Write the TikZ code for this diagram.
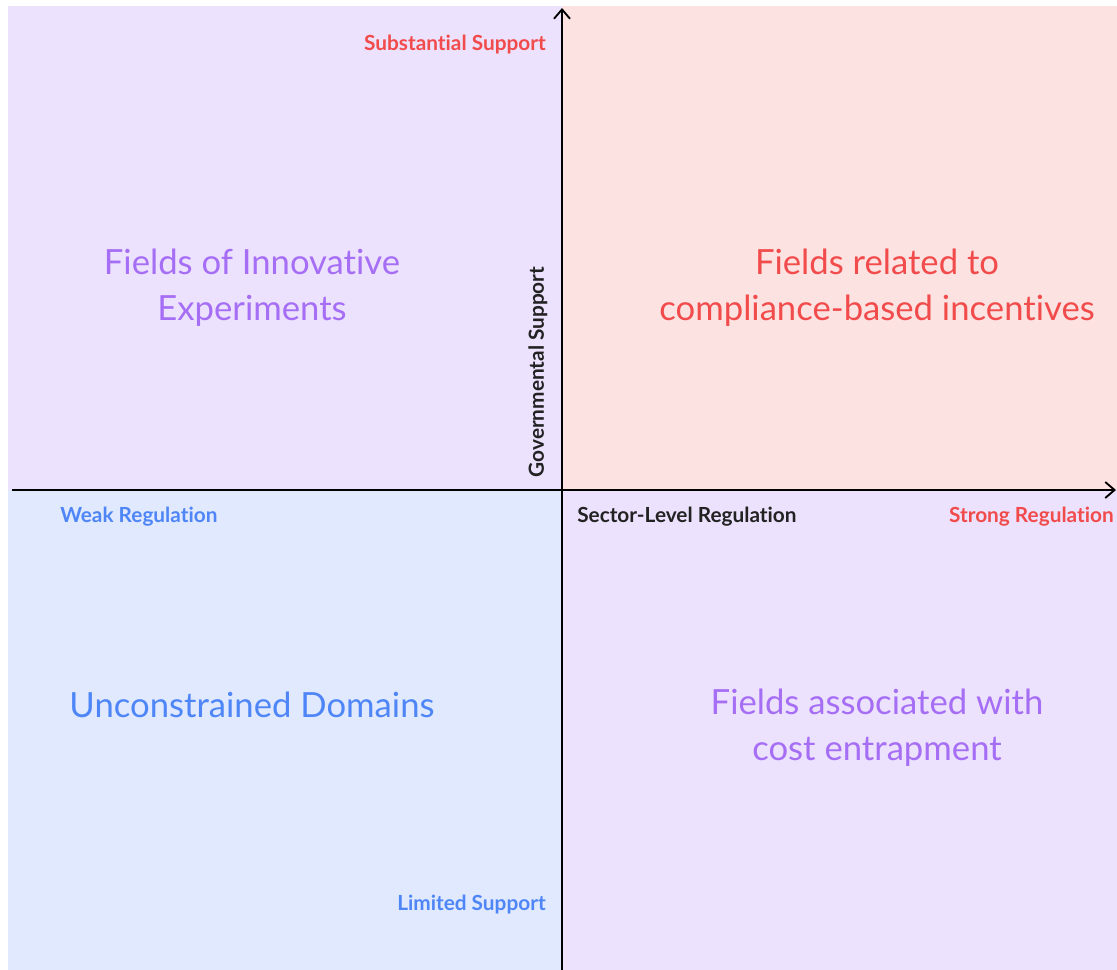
\documentclass[tikz,border=0pt]{standalone}
\usepackage{fontspec}
\setmainfont{Lato}[RawFeature={-liga;-clig;-dlig;-calt}]
\usetikzlibrary{arrows.meta}
\definecolor{qpurple}{HTML}{ECE2FD}
\definecolor{qpink}{HTML}{FDE2E2}
\definecolor{qblue}{HTML}{E0E9FE}
\definecolor{tpurple}{HTML}{A66EF5}
\definecolor{tred}{HTML}{F24B4B}
\definecolor{tblue}{HTML}{4F86F7}
\definecolor{tdark}{HTML}{222222}
\tikzset{
  axislabel/.style={font=\bfseries\fontsize{15.6}{18}\selectfont, inner sep=0pt},
  quadlabel/.style={font=\fontsize{26}{34.5}\selectfont, align=center, inner sep=0pt},
  axisline/.style={draw=black, line width=1.5pt, -{Straight Barb[length=7pt,width=12pt,line width=1.4pt]}},
}
\begin{document}
\begin{tikzpicture}[x=0.75pt,y=-0.75pt]
\useasboundingbox (0,0) rectangle (1117,970);
\fill[qpurple] (8,6) rectangle (562,490);
\fill[qpink] (562,6) rectangle (1117,490);
\fill[qblue] (8,490) rectangle (562,970);
\fill[qpurple] (562,490) rectangle (1117,970);
\coordinate (xstart) at (12,490);
\coordinate (xend) at (1116,490);
\coordinate (ystart) at (562,970);
\coordinate (yend) at (562,8);
\draw[axisline] (xstart) -- (xend);
\draw[axisline] (ystart) -- (yend);
\node[axislabel, text=tred, anchor=east] (subst) at (546,45) {Substantial Support};
\node[axislabel, text=tblue, anchor=east] (limited) at (546,905) {Limited Support};
\node[axislabel, text=tblue, anchor=west] (weak) at (60,517) {Weak Regulation};
\node[axislabel, text=tdark, anchor=west] (sector) at (577,517) {Sector-Level Regulation};
\node[axislabel, text=tred, anchor=east] (strong) at (1114,517) {Strong Regulation};
\node[axislabel, text=tdark, rotate=90] (gov) at (538,372) {Governmental Support};
\node[quadlabel, text=tpurple] (innov) at (252,288) {Fields of Innovative\\Experiments};
\node[quadlabel, text=tred] (compl) at (877,288) {Fields related to\\compliance-based incentives};
\node[quadlabel, text=tblue] (uncon) at (252,705) {Unconstrained Domains};
\node[quadlabel, text=tpurple] (cost) at (877,728) {Fields associated with\\cost entrapment};
\end{tikzpicture}
\end{document}
